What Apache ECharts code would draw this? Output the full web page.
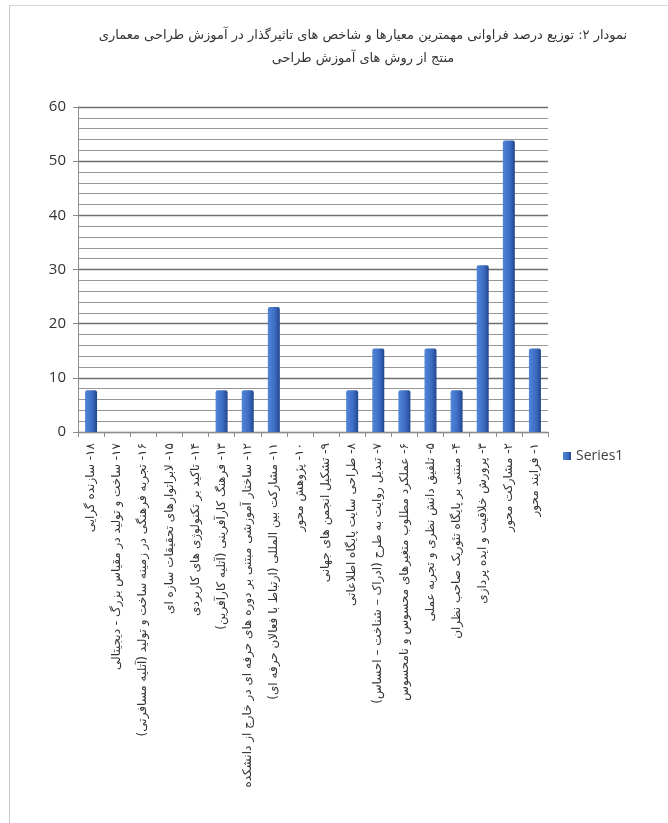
<!DOCTYPE html>
<html>
<head>
<meta charset="utf-8">
<script src="https://cdn.jsdelivr.net/npm/echarts@6/dist/echarts.min.js"></script>
<style>
  html, body { margin: 0; padding: 0; background: #fff; }
  #frame { position: absolute; left: 9px; top: 5px; width: 700px; height: 900px;
    border-left: 1px solid #c8c8c8; border-top: 1px solid #d8d8d8; pointer-events: none; }
  #chart { width: 668px; height: 823px; }
</style>
</head>
<body>
<div id="frame"></div>
<div id="chart"></div>
<script>
// categories (left to right, as in the picture: 18 ... 1)
const categories = [
  '۱۸- سازنده گرایی',
  '۱۷- ساخت و تولید در مقیاس بزرگ - دیجیتالی',
  '۱۶- تجربه فرهنگی در زمینه ساخت و تولید (آتلیه مسافرتی)',
  '۱۵- لابراتوارهای تحقیقات سازه ای',
  '۱۴- تاکید بر تکنولوژی های کاربردی',
  '۱۳- فرهنگ کارآفرینی (آتلیه کارآفرین)',
  '۱۲- ساختار آموزشی مبتنی بر دوره های حرفه ای در خارج از دانشکده',
  '۱۱- مشارکت بین المللی (ارتباط با فعالان حرفه ای)',
  '۱۰- پژوهش محور',
  '۹- تشکیل انجمن های جهانی',
  '۸- طراحی سایت پایگاه اطلاعاتی',
  '۷- تبدیل روایت به طرح (ادراک – شناخت – احساس)',
  '۶- عملکرد مطلوب متغیرهای محسوس و نامحسوس',
  '۵- تلفیق دانش نظری و تجربه عملی',
  '۴- مبتنی بر پایگاه تئوریک صاحب نظران',
  '۳- پرورش خلاقیت و ایده پردازی',
  '۲- مشارکت محور',
  '۱- فرایند محور'
]

const series1 = [7.7, 0, 0, 0, 0, 7.7, 7.7, 23.1, 0, 0, 7.7, 15.4, 7.7, 15.4, 7.7, 30.8, 53.8, 15.4]

const titleLines = [
  'نمودار ۲: توزیع درصد فراوانی مهمترین معیارها و شاخص های تاثیرگذار در آموزش طراحی معماری',
  'منتج از روش های آموزش طراحی'
]

const chart = echarts.init(document.getElementById('chart'))

const option = {
  animation: false,
  title: {
    text: titleLines.map(t => '\u200F' + t).join('\n'),
    left: 358,
    top: 19,
    textAlign: 'center',
    textStyle: {
      fontFamily: 'DejaVu Sans',
      fontSize: 13,
      fontWeight: 'normal',
      color: '#333',
      lineHeight: 23
    }
  },
  legend: {
    data: ['Series1'],
    orient: 'vertical',
    left: 558,
    top: 444,
    itemWidth: 8,
    itemHeight: 8,
    itemGap: 4,
    icon: 'rect',
    textStyle: { fontFamily: 'Open Sans', fontSize: 14, color: '#404040' }
  },
  grid: {
    left: 78,
    right: 120,
    top: 107,
    bottom: 391,
    containLabel: false
  },
  xAxis: {
    type: 'category',
    data: categories,
    axisLine: { lineStyle: { color: '#8c8c8c' } },
    axisTick: { show: true, length: 5, lineStyle: { color: '#8c8c8c' } },
    axisLabel: {
      interval: 0,
      rotate: 90,
      margin: 11,
      fontFamily: 'DejaVu Sans',
      fontSize: 12,
      color: '#333',
      formatter: v => '\u200F' + v
    }
  },
  yAxis: {
    type: 'value',
    min: 0,
    max: 60,
    interval: 10,
    axisLine: { show: true, lineStyle: { color: '#8c8c8c' } },
    axisTick: { show: true, length: 5, lineStyle: { color: '#8c8c8c' } },
    axisLabel: {
      fontFamily: 'Open Sans',
      fontSize: 15,
      color: '#333',
      margin: 12
    },
    splitLine: { show: true, lineStyle: { color: '#6e6e6e', width: 1.3 } },
    minorTick: { show: false, splitNumber: 5 },
    minorSplitLine: { show: true, lineStyle: { color: '#969696', width: 1 } }
  },
  series: [
    {
      name: 'Series1',
      type: 'bar',
      data: series1,
      barWidth: 12,
      itemStyle: {
        color: new echarts.graphic.LinearGradient(0, 0, 1, 0, [
          { offset: 0, color: '#5286d8' },
          { offset: 0.6, color: '#3b6bc2' },
          { offset: 1, color: '#22468c' }
        ]),
        borderRadius: [2, 2, 0, 0]
      }
    }
  ]
}

chart.setOption(option)
</script>
</body>
</html>
